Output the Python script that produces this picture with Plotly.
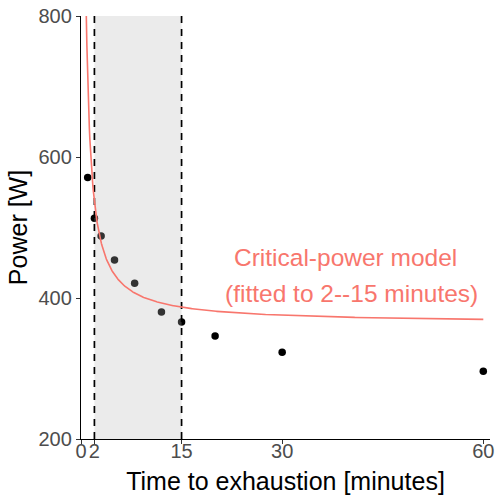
import numpy as np
import plotly.graph_objects as go

# Data
time_min = [1, 2, 3, 5, 8, 12, 15, 20, 30, 60]
power_w = [571, 513, 488, 454, 421, 380, 366, 346, 323, 296]

# Critical-power model parameters (fitted to 2--15 minutes)
CP = 364.0        # W
W_PRIME = 345.0   # W*min
FIT_WINDOW = [2, 15]

x_ticks = [0, 2, 15, 30, 60]
y_ticks = [200, 400, 600, 800]
Y_RANGE = [200, 800]
X_RANGE = [0, 61]

SALMON = "#F8766D"

t_model = np.linspace(0.5, 60, 800)
p_model = CP + W_PRIME / t_model

fig = go.Figure()

# points (drawn first, below the shaded window)
fig.add_trace(go.Scatter(
    x=time_min, y=power_w, mode="markers",
    marker=dict(color="black", size=7.5),
    showlegend=False, hoverinfo="skip"))

# shaded fitting window (semi-transparent, above points)
fig.add_trace(go.Scatter(
    x=[FIT_WINDOW[0], FIT_WINDOW[1], FIT_WINDOW[1], FIT_WINDOW[0], FIT_WINDOW[0]],
    y=[Y_RANGE[0], Y_RANGE[0], Y_RANGE[1], Y_RANGE[1], Y_RANGE[0]],
    mode="lines", fill="toself", fillcolor="rgba(184,184,184,0.28)",
    line=dict(width=0), showlegend=False, hoverinfo="skip"))

# dashed window borders
for xv in FIT_WINDOW:
    fig.add_trace(go.Scatter(
        x=[xv, xv], y=Y_RANGE, mode="lines",
        line=dict(color="black", width=1.7, dash="7px,6px"),
        showlegend=False, hoverinfo="skip"))

# model curve
fig.add_trace(go.Scatter(
    x=t_model, y=p_model, mode="lines",
    line=dict(color=SALMON, width=1.6),
    showlegend=False, hoverinfo="skip"))

fig.add_annotation(x=39.4, y=458, xref="x", yref="y", text="Critical-power model",
                   showarrow=False, font=dict(family="Liberation Sans", size=24.5, color=SALMON),
                   xanchor="center", yanchor="middle")
fig.add_annotation(x=40.4, y=407, xref="x", yref="y", text="(fitted to 2--15 minutes)",
                   showarrow=False, font=dict(family="Liberation Sans", size=24.5, color=SALMON),
                   xanchor="center", yanchor="middle")

fig.update_layout(
    width=495, height=495,
    margin=dict(l=81, r=5, t=16, b=56),
    plot_bgcolor="white", paper_bgcolor="white",
    font=dict(family="Liberation Sans"),
)

fig.update_xaxes(
    range=X_RANGE, tickvals=x_ticks, ticktext=[str(v) for v in x_ticks],
    showgrid=False, zeroline=False, showline=True, linecolor="black", linewidth=1.3,
    ticks="outside", ticklen=4, tickcolor="#333333", tickwidth=1.1,
    tickfont=dict(size=20, color="#4D4D4D"), automargin=False, ticklabelstandoff=-10,
    title=dict(text="Time to exhaustion [minutes]", font=dict(size=25, color="black"), standoff=11),
)
fig.update_yaxes(
    range=Y_RANGE, tickvals=y_ticks, ticktext=[str(v) for v in y_ticks],
    showgrid=False, zeroline=False, showline=True, linecolor="black", linewidth=1.3,
    ticks="outside", ticklen=4, tickcolor="#333333", tickwidth=1.1,
    tickfont=dict(size=20, color="#4D4D4D"), automargin=False,
    title=dict(text="Power [W]", font=dict(size=25, color="black"), standoff=3),
)

fig.write_html("out.html")
